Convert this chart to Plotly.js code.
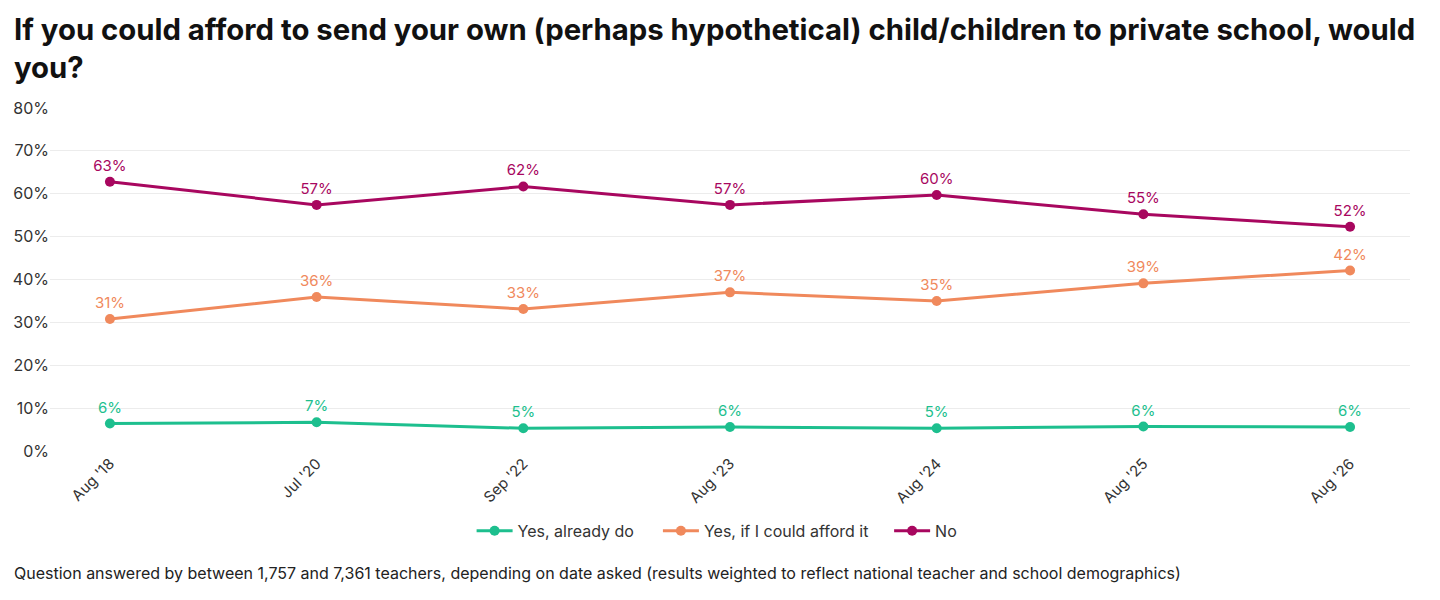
<!DOCTYPE html>
<html>
<head>
<meta charset="utf-8">
<script src="https://cdn.plot.ly/plotly-3.0.1.min.js"></script>
<style>
  body { margin: 0; background: #fff; }
  #chart { width: 1440px; height: 600px; }
</style>
</head>
<body>
<div id="chart"></div>
<script>
var dates = ["Aug '18", "Jul '20", "Sep '22", "Aug '23", "Aug '24", "Aug '25", "Aug '26"];
var alreadyDo = [6.4, 6.7, 5.3, 5.6, 5.3, 5.7, 5.6];
var ifAfford = [30.8, 35.9, 33.1, 37.0, 35.0, 39.1, 42.1];
var no = [62.8, 57.4, 61.7, 57.4, 59.7, 55.2, 52.3];
var yTicks = [0, 10, 20, 30, 40, 50, 60, 70, 80];

var font = 'Inter, "Noto Sans", sans-serif';

function series(name, values, color, legendId) {
  return {
    x: dates,
    y: values,
    name: name,
    legend: legendId,
    type: 'scatter',
    mode: 'lines+markers+text',
    line: { color: color, width: 3 },
    marker: { color: color, size: 10 },
    text: values.map(function (v) { return Math.round(v) + '%'; }),
    textposition: 'top center',
    textfont: { family: font, size: 15, color: color },
    hoverinfo: 'x+y'
  };
}

var data = [
  series('Yes, already do', alreadyDo, '#1dbf8e', 'legend'),
  series('Yes, if I could afford it', ifAfford, '#f0895c', 'legend2'),
  series('No', no, '#a8075f', 'legend3')
];

function legendAt(x) {
  return {
    orientation: 'h',
    x: x,
    xanchor: 'left',
    y: -0.233,
    yanchor: 'middle',
    itemwidth: 36,
    font: { family: font, size: 16, color: '#333' }
  };
}

var layout = {
  width: 1440,
  height: 600,
  paper_bgcolor: '#fff',
  plot_bgcolor: '#fff',
  font: { family: font, color: '#222' },
  margin: { l: 50, r: 30, t: 108, b: 149 },
  xaxis: {
    type: 'category',
    range: [-0.29, 6.29],
    tickangle: -45,
    tickfont: { family: font, size: 15, color: '#333' },
    showgrid: false,
    zeroline: false,
    showline: false,
    ticks: ''
  },
  yaxis: {
    range: [0, 80],
    tickvals: yTicks,
    ticktext: yTicks.map(function (v) { return v + '%'; }),
    tickfont: { family: font, size: 16, color: '#333' },
    gridcolor: '#ececec',
    zeroline: false,
    showline: false,
    ticks: ''
  },
  showlegend: true,
  legend: legendAt(0.310),
  legend2: legendAt(0.447),
  legend3: legendAt(0.617),
  annotations: [{
    text: '<b>If you could afford to send your own (perhaps hypothetical) child/children to private school, would<br>you?</b>',
    xref: 'paper',
    yref: 'paper',
    x: -0.028,
    xanchor: 'left',
    y: 1.285,
    yanchor: 'top',
    align: 'left',
    showarrow: false,
    font: { family: font, size: 29.3, color: '#111' }
  }, {
    text: 'Question answered by between 1,757 and 7,361 teachers, depending on date asked (results weighted to reflect national teacher and school demographics)',
    xref: 'paper',
    yref: 'paper',
    x: -0.028,
    xanchor: 'left',
    y: -0.355,
    yanchor: 'middle',
    showarrow: false,
    font: { family: font, size: 16, color: '#222' }
  }]
};

Plotly.newPlot('chart', data, layout, { displayModeBar: false });
</script>
</body>
</html>
